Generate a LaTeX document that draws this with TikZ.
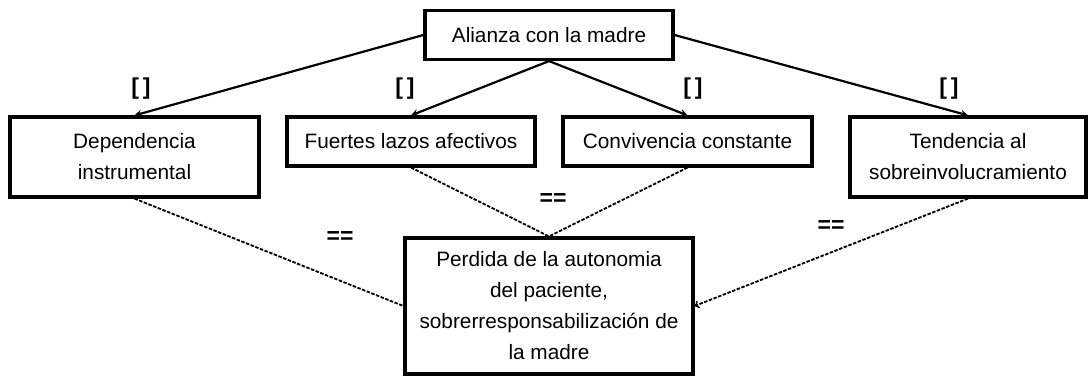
\documentclass[tikz,border=0pt]{standalone}
\usepackage{fontspec}
\setmainfont{Liberation Sans}
\usetikzlibrary{shapes, arrows, positioning}

\begin{document}
\begin{tikzpicture}[x=1pt, y=1pt, node distance=106.5pt, font=\fontsize{20.8pt}{31pt}\selectfont]
        \tikzstyle{caja} = [rectangle, minimum width = 248pt, minimum height = 49pt, text centered, align=center, draw=black, line width=3.2pt, fill=white]
        \tikzstyle{cajaalta} = [caja, minimum height = 80pt]
        \tikzstyle{flecha} = [line width=2.2pt, ->, >=stealth]
        \tikzstyle{punteada} = [line width=1.8pt, dash pattern=on 3.5pt off 1.5pt]
        \tikzstyle{marca} = [font=\fontsize{23pt}{31pt}\selectfont\bfseries]

        \useasboundingbox (0,0) rectangle (1088,-377);

        \node (Alianza) [caja] at (549,-35) {Alianza con la madre};
        \node (Fuertes) [caja, below of=Alianza, xshift=-138pt]{Fuertes lazos afectivos};
        \node (Conv) [caja, below of=Alianza, xshift=138.5pt, minimum width=249pt]{Convivencia constante};
        \node (Dep) [cajaalta, below of=Alianza, xshift=-414.5pt, yshift=-15.5pt, minimum width=249pt]{Dependencia \\ instrumental};
        \node (Tend) [cajaalta, below of=Alianza, xshift=419pt, yshift=-15.5pt, minimum width=236pt]{Tendencia al \\ sobreinvolucramiento};
        \node (Perdida) [caja, below of=Alianza, yshift=-164.5pt, minimum width=288pt, minimum height=136pt]{Perdida de la autonomia \\ del paciente, \\ sobrerresponsabilización de \\ la madre};

        \node (marcaDep) [marca] at (141,-89) {[\,]};
        \node (marcaFuertes) [marca] at (405,-89) {[\,]};
        \node (marcaConv) [marca] at (693,-89) {[\,]};
        \node (marcaTend) [marca] at (949,-89) {[\,]};
        \node (igualIzq) [marca] at (340,-238) {==};
        \node (igualCentro) [marca] at (553,-200) {==};
        \node (igualDer) [marca] at (831,-227) {==};

        \draw[flecha] (Alianza.west) -- (Dep.north);
        \draw[flecha] (Alianza.south) -- (Fuertes.north);
        \draw[flecha] (Alianza.south) -- (Conv.north);
        \draw[flecha] (Alianza.east) -- (Tend.north);
        \draw[punteada] (Dep.south) -- (Perdida.west);
        \draw[punteada] (Fuertes.south) -- (Perdida.north);
        \draw[punteada] (Conv.south) -- (Perdida.north);
        \draw[punteada, ->, >=to] (Tend.south) -- (Perdida.east);

    \end{tikzpicture}
\end{document}
